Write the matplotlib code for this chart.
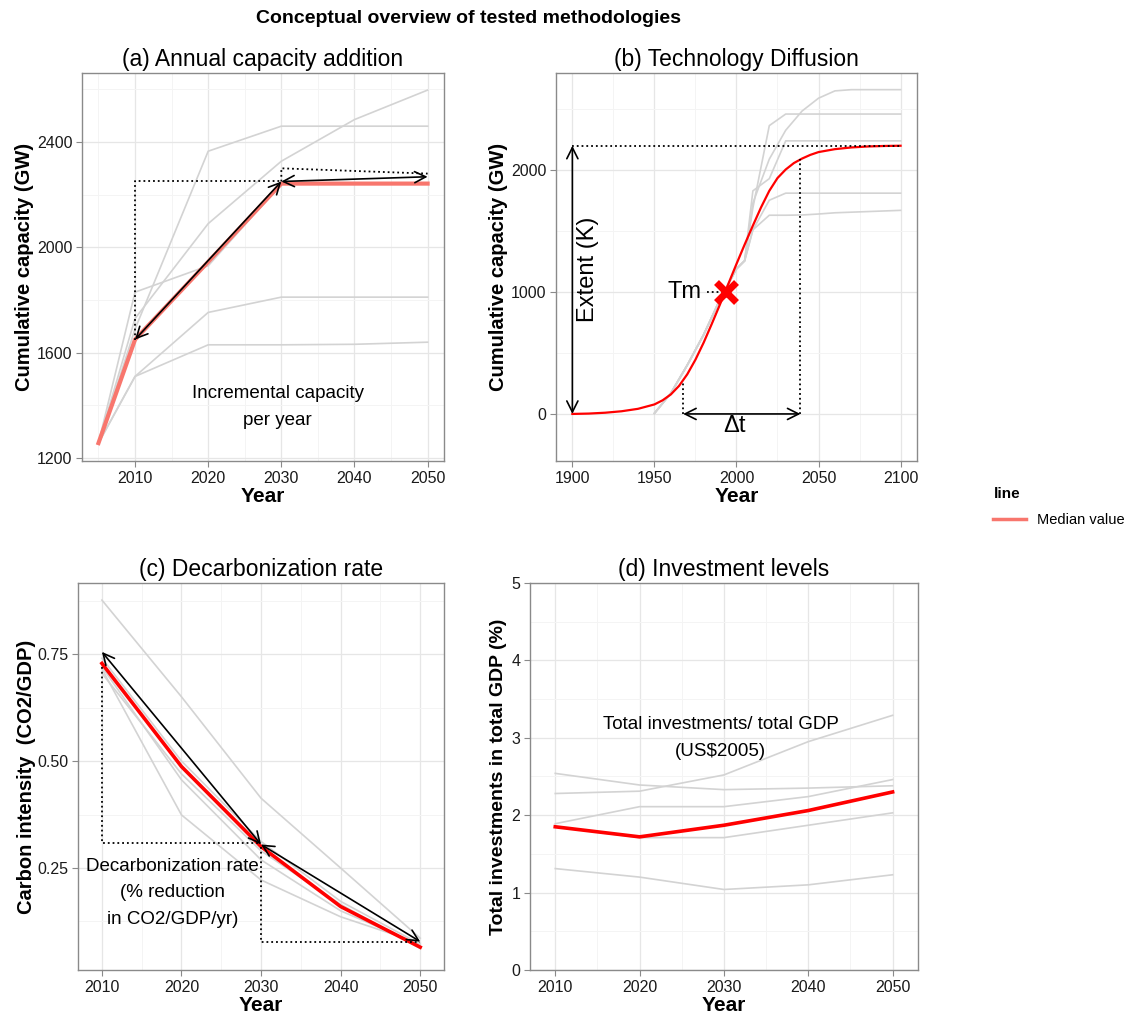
import matplotlib
matplotlib.use("Agg")
import matplotlib.pyplot as plt
from matplotlib.lines import Line2D

plt.rcParams['font.family'] = ['Liberation Sans', 'DejaVu Sans']

# (a) capacidad anual
years_a = [2005, 2010, 2020, 2030, 2040, 2050]
cap_a_grey = [
    [1257, 1690, 2365, 2460, 2460, 2460],
    [1257, 1730, 2090, 2327, 2485, 2597],
    [1257, 1830, 1930, 2240, 2240, 2240],
    [1257, 1510, 1753, 1811, 1811, 1811],
    [1257, 1510, 1630, 1630, 1632, 1640],
]
cap_a_median = [1257, 1650, 1945, 2242, 2242, 2242]

# (b) difusion tecnologica
years_b_grey = [1950, 1960, 1970, 1980, 1990, 2000, 2005, 2010, 2020, 2030,
                2040, 2050, 2060, 2070, 2080, 2090, 2100]
cap_b_grey = [
    [5, 170, 400, 650, 940, 1190, 1257, 1690, 2365, 2460, 2460, 2460, 2460, 2460, 2460, 2460, 2460],
    [5, 170, 400, 650, 940, 1190, 1257, 1730, 2090, 2327, 2485, 2590, 2650, 2660, 2660, 2660, 2660],
    [5, 170, 400, 650, 940, 1190, 1257, 1830, 1930, 2240, 2240, 2240, 2240, 2240, 2240, 2240, 2240],
    [5, 170, 400, 650, 940, 1190, 1257, 1510, 1753, 1811, 1811, 1811, 1811, 1811, 1811, 1811, 1811],
    [5, 170, 400, 650, 940, 1190, 1257, 1510, 1630, 1630, 1632, 1640, 1650, 1655, 1660, 1665, 1670],
]
years_b_red = [1900, 1910, 1920, 1930, 1940, 1950, 1955, 1960, 1965, 1970, 1975, 1980,
               1985, 1990, 1995, 2000, 2005, 2010, 2015, 2020, 2025, 2030, 2035, 2040,
               2045, 2050, 2060, 2070, 2080, 2090, 2100]
cap_b_red = [0, 3, 10, 22, 42, 78, 112, 160, 230, 325, 445, 585, 740, 900, 1065, 1230,
             1390, 1545, 1695, 1830, 1935, 2005, 2058, 2095, 2125, 2148, 2172, 2186,
             2194, 2198, 2200]
K = 2200
tm_year, tm_val = 1993.6, 1000
dt_start, dt_end = 1967.5, 2039

# (c) descarbonizacion
years_cd = [2010, 2020, 2030, 2040, 2050]
ci_grey = [
    [0.876, 0.650, 0.413, 0.250, 0.086],
    [0.715, 0.374, 0.222, 0.136, 0.074],
    [0.720, 0.456, 0.269, 0.150, 0.070],
    [0.740, 0.500, 0.312, 0.172, 0.072],
    [0.705, 0.470, 0.290, 0.165, 0.062],
]
ci_median = [0.728, 0.487, 0.300, 0.160, 0.065]

# (d) inversiones
inv_grey = [
    [2.54, 2.39, 2.33, 2.35, 2.38],
    [2.28, 2.31, 2.52, 2.95, 3.29],
    [1.89, 2.11, 2.11, 2.24, 2.46],
    [1.85, 1.71, 1.71, 1.87, 2.03],
    [1.31, 1.20, 1.04, 1.10, 1.23],
]
inv_median = [1.85, 1.72, 1.87, 2.06, 2.30]

GREY = '#d3d3d3'
SALMON = '#F8766D'
TXT = 13.5   # anotaciones
BIG = 17     # Extent, Tm, Δt


def estilo(ax, xt, xm, yt, ym, xlim, ylim):
    ax.set_xlim(xlim)
    ax.set_ylim(ylim)
    ax.set_xticks(xt)
    ax.set_xticks(xm, minor=True)
    ax.set_yticks(yt)
    ax.set_yticks(ym, minor=True)
    ax.grid(which='major', color='#e6e6e6', lw=0.9)
    ax.grid(which='minor', color='#f4f4f4', lw=0.7)
    ax.set_axisbelow(True)
    for s in ax.spines.values():
        s.set_color('#8a8a8a')
        s.set_linewidth(1.0)
    ax.tick_params(which='minor', length=0)
    ax.tick_params(which='major', length=4, color='#8a8a8a', labelsize=11.5,
                   labelcolor='#1a1a1a', pad=3)
    ax.set_xlabel('Year', fontweight='bold', fontsize=15, labelpad=1)


def flecha(ax, a, b):
    ax.annotate('', xy=b, xytext=a,
                arrowprops=dict(arrowstyle='<->', color='black', lw=1.2,
                                mutation_scale=20, shrinkA=0, shrinkB=0))


fig = plt.figure(figsize=(11.36, 10.19), dpi=100)
fig.text(0.412, 0.982, 'Conceptual overview of tested methodologies',
         ha='center', va='center', fontsize=14, fontweight='bold')

# ---- panel a
ax = fig.add_axes([0.0722, 0.5476, 0.3187, 0.3808])
for serie in cap_a_grey:
    ax.plot(years_a, serie, color=GREY, lw=1.2)
ax.plot(years_a, cap_a_median, color=SALMON, lw=3)
ax.plot([2010, 2010, 2030], [1650, 2250, 2250], color='black', ls=':', lw=1.3)
ax.plot([2030, 2030, 2050], [2250, 2300, 2280], color='black', ls=':', lw=1.3)
flecha(ax, (2030, 2250), (2010, 1650))
flecha(ax, (2030, 2250), (2050, 2268))
ax.text(2029.5, 1393, 'Incremental capacity\nper year', ha='center', va='center',
        fontsize=TXT, linespacing=1.8)
estilo(ax, [2010, 2020, 2030, 2040, 2050], [2005, 2015, 2025, 2035, 2045],
       [1200, 1600, 2000, 2400], [1400, 1800, 2200, 2600], (2002.75, 2052.25), (1189, 2662))
ax.set_ylabel('Cumulative capacity (GW)', fontweight='bold', fontsize=14.5, labelpad=2)
ax.set_title('(a) Annual capacity addition', fontsize=16.5, pad=5)

# ---- panel b
ax = fig.add_axes([0.4894, 0.5476, 0.3178, 0.3808])
for serie in cap_b_grey:
    ax.plot(years_b_grey, serie, color=GREY, lw=1.2)
ax.plot(years_b_red, cap_b_red, color='red', lw=1.6)
ax.plot([1900, 2100], [K, K], color='black', ls=':', lw=1.3)
ax.plot([dt_start, dt_start], [0, 270], color='black', ls=':', lw=1.3)
ax.plot([dt_end, dt_end], [0, 2090], color='black', ls=':', lw=1.3)
ax.plot([1982, 1992], [tm_val, tm_val], color='black', ls=':', lw=1.3)
flecha(ax, (1900, 0), (1900, K))
flecha(ax, (dt_start, 0), (dt_end, 0))
ax.plot(tm_year, tm_val, marker='x', color='red', ms=15, mew=5)
ax.text(1909.5, 1186, 'Extent (K)', rotation=90, ha='center', va='center', fontsize=BIG)
ax.text(1968.5, tm_val, 'Tm', ha='center', va='center', fontsize=BIG)
ax.text(1999, -95, 'Δt', ha='center', va='center', fontsize=BIG)
estilo(ax, [1900, 1950, 2000, 2050, 2100], [1925, 1975, 2025, 2075],
       [0, 1000, 2000], [500, 1500, 2500], (1890, 2110), (-386, 2797))
ax.set_ylabel('Cumulative capacity (GW)', fontweight='bold', fontsize=14.5, labelpad=2)
ax.set_title('(b) Technology Diffusion', fontsize=16.5, pad=5)

# ---- panel c
ax = fig.add_axes([0.0687, 0.0481, 0.3222, 0.3798])
for serie in ci_grey:
    ax.plot(years_cd, serie, color=GREY, lw=1.2)
ax.plot(years_cd, ci_median, color='red', lw=2.6)
ax.plot([2010, 2010, 2030], [0.72, 0.308, 0.308], color='black', ls=':', lw=1.3)
ax.plot([2030, 2030, 2050], [0.30, 0.078, 0.078], color='black', ls=':', lw=1.3)
flecha(ax, (2030, 0.305), (2010, 0.755))
flecha(ax, (2030, 0.305), (2050, 0.078))
ax.text(2018.9, 0.192, 'Decarbonization rate\n(% reduction\nin CO2/GDP/yr)', ha='center',
        va='center', fontsize=TXT, linespacing=1.75)
estilo(ax, [2010, 2020, 2030, 2040, 2050], [2015, 2025, 2035, 2045],
       [0.25, 0.50, 0.75], [0.125, 0.375, 0.625, 0.875], (2007, 2053), (0.0117, 0.916))
ax.set_yticklabels(['0.25', '0.50', '0.75'])
ax.set_ylabel('Carbon intensity  (CO2/GDP)', fontweight='bold', fontsize=14.5, labelpad=1)
ax.set_title('(c) Decarbonization rate', fontsize=16.5, pad=5)

# ---- panel d
ax = fig.add_axes([0.4665, 0.0481, 0.3415, 0.3798])
for serie in inv_grey:
    ax.plot(years_cd, serie, color=GREY, lw=1.2)
ax.plot(years_cd, inv_median, color='red', lw=2.6)
ax.text(2029.6, 3.0, 'Total investments/ total GDP\n(US$2005)', ha='center', va='center',
        fontsize=TXT, linespacing=1.8)
estilo(ax, [2010, 2020, 2030, 2040, 2050], [2015, 2025, 2035, 2045],
       [0, 1, 2, 3, 4, 5], [0.5, 1.5, 2.5, 3.5, 4.5], (2007, 2053), (0, 5))
ax.set_ylabel('Total investments in total GDP (%)', fontweight='bold', fontsize=14, labelpad=3)
ax.set_title('(d) Investment levels', fontsize=16.5, pad=5)

# leyenda
fig.legend(handles=[Line2D([], [], color=SALMON, lw=2.5)], labels=['Median value'],
           title='line', loc='upper left', bbox_to_anchor=(0.863, 0.535),
           frameon=False, fontsize=10.5, title_fontproperties={'weight': 'bold', 'size': 11},
           alignment='left', handlelength=2.2, labelspacing=0.8)

fig.savefig('out.png', dpi=100)
